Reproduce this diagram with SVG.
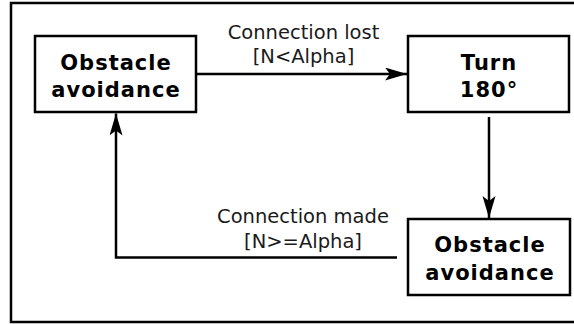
<svg xmlns="http://www.w3.org/2000/svg" width="574" height="324" viewBox="0 0 574 324">
<style>
.box{fill:#fff;stroke:#000;stroke-width:2.5}
.nt{font-family:"DejaVu Sans",sans-serif;font-weight:bold;font-size:21px;letter-spacing:1px;text-anchor:middle;fill:#000}
.lt{font-family:"DejaVu Sans",sans-serif;font-size:19.5px;text-anchor:middle;fill:#1a1a1a}
.con{fill:none;stroke:#000;stroke-width:2.5}
</style>
<defs>
<marker id="ah" markerUnits="userSpaceOnUse" markerWidth="24" markerHeight="14" refX="22" refY="6.5" orient="auto">
<path d="M0,0 L22,6.5 L0,13 L5,6.5 Z" fill="#000"/>
</marker>
</defs>
<rect x="11" y="3" width="575" height="319" fill="#fff" stroke="#000" stroke-width="2.5"/>
<g id="connectors">
<line class="con" x1="196" y1="74" x2="407" y2="74" marker-end="url(#ah)"/>
<line class="con" x1="489" y1="117" x2="489" y2="218" marker-end="url(#ah)"/>
<polyline class="con" points="397,257.5 116,257.5 116,113.5" marker-end="url(#ah)"/>
<text class="lt" x="303.5" y="39">Connection lost</text>
<text class="lt" x="303.5" y="63">[N&lt;Alpha]</text>
<text class="lt" x="303" y="223">Connection made</text>
<text class="lt" x="303" y="248">[N&gt;=Alpha]</text>
</g>
<g id="node-obstacle1">
<rect class="box" x="35" y="36" width="161" height="76"/>
<text class="nt" x="116" y="69.5">Obstacle</text>
<text class="nt" x="116" y="97">avoidance</text>
</g>
<g id="node-turn">
<rect class="box" x="408" y="36" width="161" height="76"/>
<text class="nt" x="489" y="69.5">Turn</text>
<text class="nt" x="489" y="97">180°</text>
</g>
<g id="node-obstacle2">
<rect class="box" x="408" y="219" width="162" height="76"/>
<text class="nt" x="490" y="252">Obstacle</text>
<text class="nt" x="490" y="280">avoidance</text>
</g>
</svg>
